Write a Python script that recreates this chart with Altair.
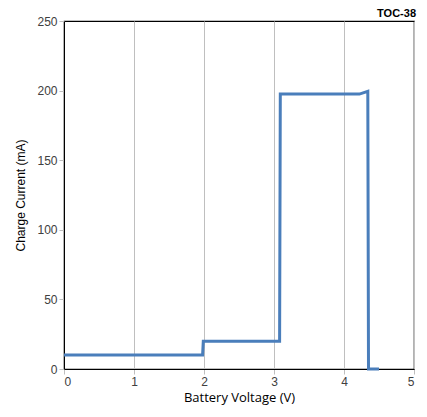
import altair as alt
import pandas as pd

voltage = [0.0, 1.98, 1.99, 3.08, 3.09, 4.22, 4.34, 4.35, 4.5]
current = [10, 10, 20, 20, 197.5, 197.5, 199.5, 0, 0]
label_text = ["TOC-38"]

df = pd.DataFrame({"v": voltage, "i": current, "order": list(range(len(voltage)))})

line = alt.Chart(df).mark_line(color="#4a7ebb", strokeWidth=3).encode(
    x=alt.X("v:Q", title="Battery Voltage (V)",
            scale=alt.Scale(domain=[0, 5], nice=False),
            axis=alt.Axis(values=[0, 1, 2, 3, 4, 5], grid=True, gridColor="#bfbfbf",
                          domainColor="#000000", tickColor="#bfbfbf", tickSize=5,
                          labelColor="#404040", labelFontSize=12, labelFont="Liberation Sans",
                          labelPadding=2,
                          titleFont="Open Sans", titleFontSize=13, titleFontWeight="normal",
                          titleColor="#000000", titlePadding=4)),
    y=alt.Y("i:Q", title="Charge Current (mA)",
            scale=alt.Scale(domain=[0, 250], nice=False),
            axis=alt.Axis(values=[0, 50, 100, 150, 200, 250], grid=False,
                          domainColor="#000000", tickColor="#bfbfbf", tickSize=5,
                          labelColor="#404040", labelFontSize=12, labelFont="Liberation Sans",
                          titleFont="Liberation Sans", titleFontSize=12, titleFontWeight="normal",
                          titleColor="#000000", titlePadding=9)),
    order="order:Q",
)

tag = alt.Chart(pd.DataFrame({"t": label_text})).mark_text(
    align="right", baseline="alphabetic", fontSize=11, fontWeight="bold",
    font="Liberation Sans", color="#000000"
).encode(text="t:N", x=alt.value(352), y=alt.value(-4))

chart = alt.layer(line, tag).properties(
    width=350, height=348,
    autosize=alt.AutoSizeParams(type="none"),
    padding={"left": 56, "top": 13, "right": 4, "bottom": 40},
).configure_view(stroke="#000000", strokeWidth=1.2)

chart.save("out.html", embed_options={"renderer": "svg", "actions": False})
